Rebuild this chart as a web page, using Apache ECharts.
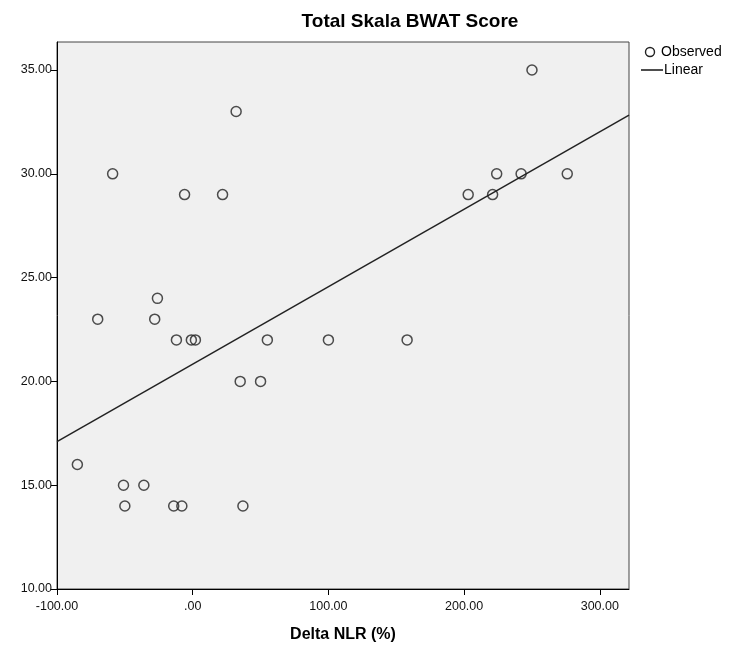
<!DOCTYPE html>
<html>
<head>
<meta charset="utf-8">
<script src="https://cdn.jsdelivr.net/npm/echarts@6/dist/echarts.min.js"></script>
<style>html,body{margin:0;padding:0;background:#fff}#c{width:737px;height:648px}</style>
</head>
<body>
<div id="c"></div>
<script>
// Observed points
var deltaNLR = [-85, -70, -59, -51, -50, -36, -28, -26, -12, -1, 2, -6, 22, 32, 35, 50, 55, 37, 100, 158, 203, 221, 224, 242, 250, 276, -14, -8];
var bwatScore = [16, 23, 30, 15, 14, 15, 23, 24, 22, 22, 22, 29, 29, 33, 20, 20, 22, 14, 22, 22, 29, 29, 30, 30, 35, 30, 14, 14];
// Linear fit line, read at the two edges of the plot
var linearX = [-100, 321.5];
var linearY = [17.1, 32.83];
// Tick values
var xTicks = [-100, 0, 100, 200, 300];
var yTicks = [10, 15, 20, 25, 30, 35];
var legendNames = ['Observed', 'Linear'];

function fmt(v) {
  var s = Number(v).toFixed(2);
  if (s.indexOf('0.') === 0) s = s.slice(1);
  if (s.indexOf('-0.') === 0) s = '-' + s.slice(2);
  return s;
}

var observed = deltaNLR.map(function (x, i) { return [x, bwatScore[i]]; });
var linear = linearX.map(function (x, i) { return [x, linearY[i]]; });
var FONT = 'Liberation Sans, Arial, sans-serif';

var chart = echarts.init(document.getElementById('c'), null, {renderer: 'canvas'});
chart.setOption({
  animation: false,
  backgroundColor: '#ffffff',
  title: {
    text: 'Total Skala BWAT Score',
    left: 405, top: 7, textAlign: 'center',
    textStyle: {fontFamily: FONT, fontWeight: 'bold', fontSize: 19, color: '#000'}
  },
  grid: {
    left: 57, top: 42, right: 108, bottom: 59,
    outerBoundsMode: 'none', containLabel: false,
    show: true, backgroundColor: '#f0f0f0', borderColor: '#444', borderWidth: 1
  },
  xAxis: {
    type: 'value', min: -100, max: 321.5,
    name: 'Delta NLR (%)', nameLocation: 'middle', nameGap: 38,
    nameTextStyle: {fontFamily: FONT, fontWeight: 'bold', fontSize: 16, color: '#000'},
    axisLine: {onZero: false, lineStyle: {color: '#000', width: 1}},
    axisTick: {show: true, length: 6, lineStyle: {color: '#000'}, customValues: xTicks},
    axisLabel: {fontFamily: FONT, fontSize: 12.5, color: '#111', margin: 11, customValues: xTicks, formatter: fmt},
    splitLine: {show: false}
  },
  yAxis: {
    type: 'value', min: 10, max: 36.35,
    axisLine: {onZero: false, lineStyle: {color: '#000', width: 1}},
    axisTick: {show: true, length: 6, lineStyle: {color: '#000'}, customValues: yTicks},
    axisLabel: {fontFamily: FONT, fontSize: 12.5, color: '#111', margin: 5, customValues: yTicks, formatter: fmt},
    splitLine: {show: false}
  },
  graphic: [
    {type: 'circle', shape: {cx: 650, cy: 52, r: 4.5}, style: {fill: 'none', stroke: '#222', lineWidth: 1.4}},
    {type: 'text', x: 661, y: 52, style: {text: legendNames[0], font: '14px ' + FONT, fill: '#000', textVerticalAlign: 'middle'}},
    {type: 'line', shape: {x1: 641, y1: 70, x2: 663, y2: 70}, style: {stroke: '#222', lineWidth: 1.6}},
    {type: 'text', x: 664, y: 70, style: {text: legendNames[1], font: '14px ' + FONT, fill: '#000', textVerticalAlign: 'middle'}}
  ],
  series: [
    {
      name: 'Observed', type: 'scatter', data: observed,
      symbol: 'circle', symbolSize: 10,
      itemStyle: {color: 'rgba(0,0,0,0)', borderColor: '#222', borderWidth: 1.5}
    },
    {
      name: 'Linear', type: 'line', data: linear, symbol: 'none',
      lineStyle: {color: '#222', width: 1.5}
    }
  ]
});
</script>
</body>
</html>
